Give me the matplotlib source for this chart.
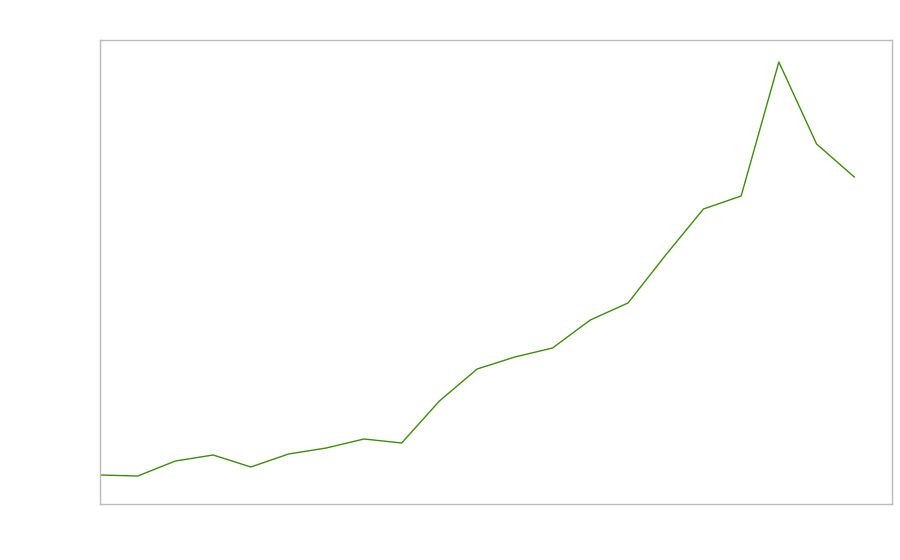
import numpy as np
import matplotlib
matplotlib.use('Agg')
import matplotlib.pyplot as plt

# values (arbitrary units, axis runs 0..464)
x = list(range(21))
values = [29, 28, 43, 49, 37, 50, 56, 65, 61, 103, 135, 147, 156, 184, 201,
          249, 295, 308, 442, 360, 327]

fig = plt.figure(figsize=(9, 5.6), dpi=100)
ax = fig.add_axes([100/900, 56/560, 792/900, 464/560])
ax.plot(x, values, '-', color='#3d8c0c', linewidth=1.0)

ax.set_xlim(0, 21)
ax.set_ylim(0, 464)
ax.set_xticks([])
ax.set_yticks([])
for s in ax.spines.values():
    s.set_color('#bbbbbb')
    s.set_linewidth(1.0)

plt.savefig('out.png', dpi=100)
